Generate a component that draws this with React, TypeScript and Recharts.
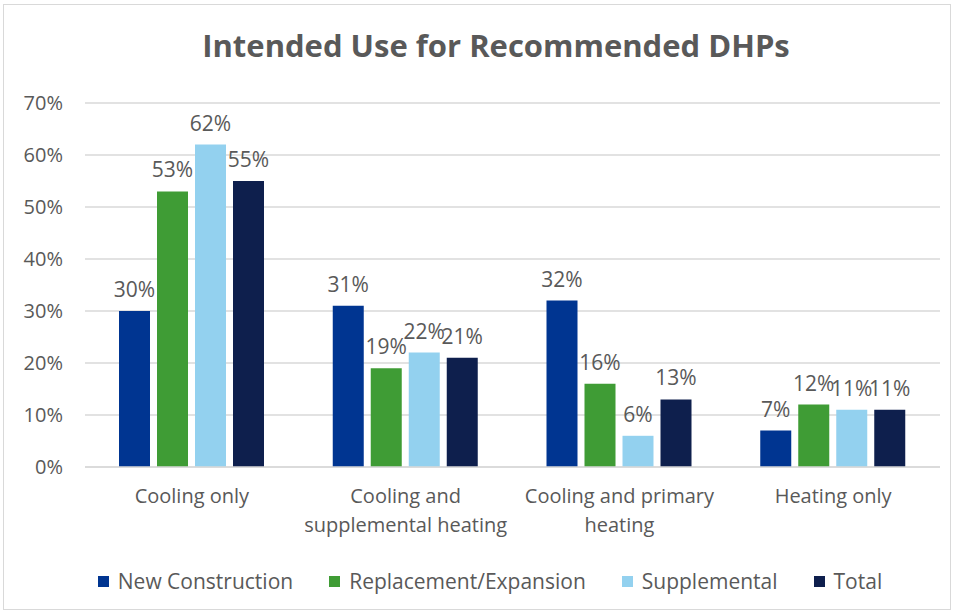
import React from "react";
import {
  Bar,
  BarChart,
  CartesianGrid,
  LabelList,
  Legend,
  XAxis,
  YAxis,
} from "recharts";

// Share of respondents (%) by intended use, per program track
const categories = [
  "Cooling only",
  "Cooling and supplemental heating",
  "Cooling and primary heating",
  "Heating only",
];
// how each category label breaks under the axis
const categoryLines = [
  ["Cooling only"],
  ["Cooling and", "supplemental heating"],
  ["Cooling and primary", "heating"],
  ["Heating only"],
];
const newConstruction = [30, 31, 32, 7];
const replacement = [53, 19, 16, 12];
const supplemental = [62, 22, 6, 11];
const total = [55, 21, 13, 11];
const yTicks = [0, 10, 20, 30, 40, 50, 60, 70];

const series = [
  { key: "newConstruction", name: "New Construction", color: "#003591" },
  { key: "replacement", name: "Replacement/Expansion", color: "#3f9c35" },
  { key: "supplemental", name: "Supplemental", color: "#93d1ef" },
  { key: "total", name: "Total", color: "#0e1f4d" },
];

const data = categories.map((category, i) => ({
  category,
  newConstruction: newConstruction[i],
  replacement: replacement[i],
  supplemental: supplemental[i],
  total: total[i],
}));

const FONT = "'Open Sans', sans-serif";
const GREY = "#595959";

const CategoryTick = (props: any) => {
  const { x, y, payload } = props;
  const idx = categories.indexOf(payload.value);
  const lines = categoryLines[idx] ?? [payload.value];
  return (
    <text
      x={x}
      y={y + 28}
      textAnchor="middle"
      fontSize={20}
      fontFamily={FONT}
      fill={GREY}
    >
      {lines.map((line, i) => (
        <tspan key={line} x={x} dy={i === 0 ? 0 : 29}>
          {line}
        </tspan>
      ))}
    </text>
  );
};

const LegendContent = (props: any) => {
  const { payload } = props;
  return (
    <div
      style={{
        display: "flex",
        justifyContent: "center",
        gap: 36,
        fontFamily: FONT,
        fontSize: 21,
        color: GREY,
        paddingLeft: 40,
      }}
    >
      {payload.map((item: any) => (
        <div key={item.value} style={{ display: "flex", alignItems: "center" }}>
          <span
            style={{
              display: "inline-block",
              width: 11,
              height: 11,
              background: item.color,
              marginRight: 9,
            }}
          />
          {item.value}
        </div>
      ))}
    </div>
  );
};

const App: React.FC = () => {
  return (
    <div
      style={{
        position: "absolute",
        left: 0,
        top: 0,
        width: 956,
        height: 615,
        background: "#fff",
      }}
    >
      <div
        style={{
          position: "absolute",
          left: 3,
          top: 4,
          width: 948,
          height: 606,
          border: "1px solid #d9d9d9",
          boxSizing: "border-box",
        }}
      />
      <div
        style={{
          position: "absolute",
          top: 24,
          left: 0,
          width: 992,
          textAlign: "center",
          fontFamily: FONT,
          fontWeight: 700,
          fontSize: 31,
          color: GREY,
        }}
      >
        Intended Use for Recommended DHPs
      </div>
      <BarChart
        width={956}
        height={615}
        data={data}
        margin={{ top: 103, right: 16, bottom: 20, left: 0 }}
        barSize={31}
        barGap={7}
      >
        <CartesianGrid vertical={false} stroke="#d9d9d9" strokeWidth={1.5} />
        <XAxis
          dataKey="category"
          tickLine={false}
          axisLine={{ stroke: "#d9d9d9", strokeWidth: 1.5 }}
          tick={<CategoryTick />}
          height={100}
          interval={0}
        />
        <YAxis
          width={85}
          domain={[0, 70]}
          ticks={yTicks}
          tickFormatter={(v) => `${v}%`}
          tickLine={false}
          axisLine={false}
          tickMargin={16}
          tick={{ fontSize: 20, fontFamily: FONT, fill: GREY }}
        />
        <Legend
          verticalAlign="bottom"
          content={<LegendContent />}
          wrapperStyle={{ bottom: 20 }}
        />
        {series.map((s) => (
          <Bar
            key={s.key}
            dataKey={s.key}
            name={s.name}
            fill={s.color}
            isAnimationActive={false}
          >
            <LabelList
              dataKey={s.key}
              position="top"
              offset={14}
              formatter={(v: any) => `${v}%`}
              style={{ fontSize: 21, fontFamily: FONT, fill: GREY }}
            />
          </Bar>
        ))}
      </BarChart>
    </div>
  );
};

export default App;
